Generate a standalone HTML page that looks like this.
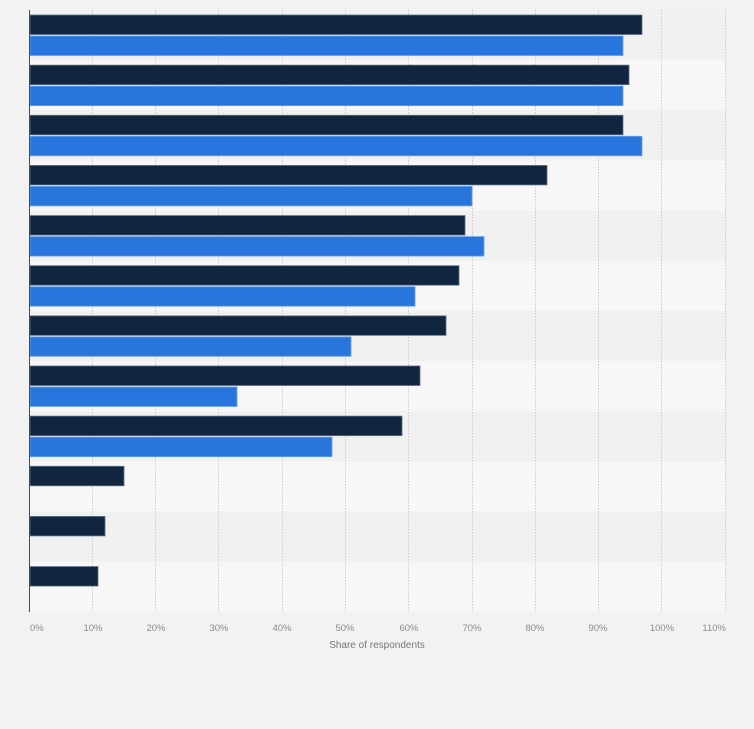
<!DOCTYPE html>
<html><head><meta charset="utf-8"><style>
html,body{margin:0;padding:0;background:#f2f2f2;}
svg{display:block;}
text{font-family:"Liberation Sans",Arial,sans-serif;}
</style></head><body>
<svg width="754" height="729" viewBox="0 0 754 729" xmlns="http://www.w3.org/2000/svg">
<rect x="0" y="0" width="754" height="729" fill="#f2f2f2"/>
<g>
<rect x="30" y="10" width="696" height="50.14" fill="#f1f1f1"/>
<rect x="30" y="60.14" width="696" height="50.14" fill="#f7f7f7"/>
<rect x="30" y="110.28" width="696" height="50.14" fill="#f1f1f1"/>
<rect x="30" y="160.43" width="696" height="50.14" fill="#f7f7f7"/>
<rect x="30" y="210.57" width="696" height="50.14" fill="#f1f1f1"/>
<rect x="30" y="260.71" width="696" height="50.14" fill="#f7f7f7"/>
<rect x="30" y="310.85" width="696" height="50.14" fill="#f1f1f1"/>
<rect x="30" y="360.99" width="696" height="50.14" fill="#f7f7f7"/>
<rect x="30" y="411.14" width="696" height="50.14" fill="#f1f1f1"/>
<rect x="30" y="461.28" width="696" height="50.14" fill="#f7f7f7"/>
<rect x="30" y="511.42" width="696" height="50.14" fill="#f1f1f1"/>
<rect x="30" y="561.56" width="696" height="50.14" fill="#f7f7f7"/>
</g>
<g stroke="#cbcbcb" stroke-width="1" stroke-dasharray="1.5,1.5">
<line x1="92.5" y1="10" x2="92.5" y2="612"/>
<line x1="155.5" y1="10" x2="155.5" y2="612"/>
<line x1="218.5" y1="10" x2="218.5" y2="612"/>
<line x1="282.5" y1="10" x2="282.5" y2="612"/>
<line x1="345.5" y1="10" x2="345.5" y2="612"/>
<line x1="408.5" y1="10" x2="408.5" y2="612"/>
<line x1="472.5" y1="10" x2="472.5" y2="612"/>
<line x1="535.5" y1="10" x2="535.5" y2="612"/>
<line x1="598.5" y1="10" x2="598.5" y2="612"/>
<line x1="661.5" y1="10" x2="661.5" y2="612"/>
<line x1="725.5" y1="10" x2="725.5" y2="612"/>
</g>
<g fill="#11263e" stroke="#5c6f86" stroke-width="0.8">
<rect x="30" y="15" width="612" height="19.5"/>
<rect x="30" y="65.14" width="599" height="19.5"/>
<rect x="30" y="115.28" width="593" height="19.5"/>
<rect x="30" y="165.43" width="517" height="19.5"/>
<rect x="30" y="215.57" width="435" height="19.5"/>
<rect x="30" y="265.71" width="429" height="19.5"/>
<rect x="30" y="315.85" width="416" height="19.5"/>
<rect x="30" y="365.99" width="390" height="19.5"/>
<rect x="30" y="416.14" width="372" height="19.5"/>
<rect x="30" y="466.28" width="94" height="19.5"/>
<rect x="30" y="516.42" width="75" height="19.5"/>
<rect x="30" y="566.56" width="68" height="19.5"/>
</g>
<g fill="#2876dd" stroke="#6aa2ec" stroke-width="0.8">
<rect x="30" y="36" width="593" height="19.5"/>
<rect x="30" y="86.14" width="593" height="19.5"/>
<rect x="30" y="136.28" width="612" height="19.5"/>
<rect x="30" y="186.43" width="442" height="19.5"/>
<rect x="30" y="236.57" width="454" height="19.5"/>
<rect x="30" y="286.71" width="385" height="19.5"/>
<rect x="30" y="336.85" width="321" height="19.5"/>
<rect x="30" y="386.99" width="207" height="19.5"/>
<rect x="30" y="437.14" width="302" height="19.5"/>
</g>
<line x1="29.5" y1="10" x2="29.5" y2="612" stroke="#4a4a4a" stroke-width="1"/>
<g font-size="9.5" fill="#8c8c8c" text-anchor="middle">
<text x="30" y="631" text-anchor="start">0%</text>
<text x="93" y="631">10%</text>
<text x="156" y="631">20%</text>
<text x="219" y="631">30%</text>
<text x="282" y="631">40%</text>
<text x="345" y="631">50%</text>
<text x="409" y="631">60%</text>
<text x="472" y="631">70%</text>
<text x="535" y="631">80%</text>
<text x="598" y="631">90%</text>
<text x="662" y="631">100%</text>
<text x="726" y="631" text-anchor="end">110%</text>
</g>
<text x="377" y="648" font-size="10" fill="#777" text-anchor="middle">Share of respondents</text>
</svg>
</body></html>
